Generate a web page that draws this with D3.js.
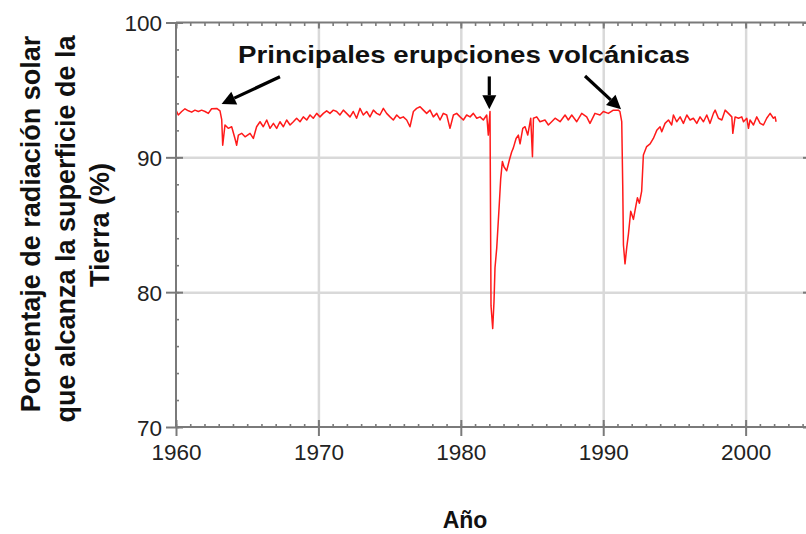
<!DOCTYPE html>
<html>
<head>
<meta charset="utf-8">
<script src="https://cdn.jsdelivr.net/npm/d3@7"></script>
<style>
  html, body { margin: 0; padding: 0; background: #fff; }
  svg { display: block; font-family: "Liberation Sans", Arial, sans-serif; }
</style>
</head>
<body>
<svg id="chart" width="806" height="534"></svg>
<script>
// ---- Data ----
const years = [
  1960.00,1960.16,1960.40,1960.63,1960.87,1961.10,1961.33,1961.57,1961.80,1962.04,1962.27,1962.50,1962.86,1963.09,1963.21,1963.28,1963.44,1963.67,1963.91,1964.14,1964.26,1964.38,1964.61,1964.85,1965.20,1965.43,1965.66,1965.90,1966.13,1966.37,1966.60,1966.84,1967.07,1967.30,1967.54,1967.77,1968.01,1968.24,1968.47,1968.71,1968.94,1969.18,1969.41,1969.64,1969.88,1970.11,1970.35,
  1970.58,1970.81,1971.05,1971.28,1971.51,1971.75,1971.98,1972.22,1972.45,1972.68,1972.92,1973.15,1973.39,1973.62,1973.86,1974.09,1974.32,1974.56,1974.79,1975.03,1975.26,1975.50,1975.73,1975.96,1976.20,1976.43,1976.67,1976.90,1977.14,1977.37,1977.60,1977.84,1978.07,1978.31,1978.54,1978.77,1979.01,1979.24,1979.48,1979.71,1979.95,1980.18,1980.41,1980.65,1980.88,1981.12,1981.35,1981.58,1981.82,1981.93,1982.05,
  1982.12,1982.24,1982.33,1982.40,1982.52,1982.70,1982.80,1982.92,1983.03,1983.22,1983.41,1983.57,1983.69,1983.88,1984.04,1984.16,1984.35,1984.51,1984.70,1984.91,1985.03,1985.10,1985.33,1985.56,1985.91,1986.15,1986.38,1986.62,1986.97,1987.32,1987.55,1987.79,1988.14,1988.49,1988.84,1989.07,1989.42,1989.77,1990.01,1990.36,1990.71,1991.06,1991.17,1991.30,
  1991.37,1991.42,1991.53,1991.65,1991.77,1991.93,1992.12,1992.31,1992.40,1992.54,1992.70,1992.82,1993.05,1993.29,1993.52,1993.76,1993.99,1994.11,1994.34,1994.58,1994.81,1994.93,1995.16,1995.40,1995.63,1995.87,1996.10,1996.33,1996.57,1996.80,1997.04,1997.27,1997.50,1997.74,1997.86,1998.09,1998.33,1998.56,1998.79,1999.03,1999.10,1999.26,1999.50,1999.73,1999.85,2000.08,2000.20,2000.31,2000.55,2000.78,2001.02,2001.25,2001.48,2001.72,2001.95,2002.07,2002.14
];
const transmission = [
  93.50,93.14,93.40,93.60,93.45,93.35,93.50,93.40,93.50,93.40,93.26,93.60,93.63,93.45,92.80,90.90,92.40,92.15,92.27,91.40,90.90,91.65,91.78,91.52,91.78,91.40,92.27,92.64,92.27,92.77,92.15,92.52,92.15,92.64,92.27,92.77,92.40,92.64,92.90,92.64,93.00,92.77,93.14,92.90,93.26,93.00,93.26,
  93.45,93.26,93.50,93.40,93.14,93.50,93.26,93.00,93.40,92.90,93.63,93.14,93.40,93.00,93.50,93.26,93.14,93.63,93.26,93.00,92.77,93.14,92.90,93.00,92.77,92.27,93.40,93.63,93.75,93.50,93.26,93.50,93.00,93.26,92.77,93.26,93.14,92.15,93.14,93.26,93.00,92.77,93.14,93.00,93.26,92.90,93.00,92.77,93.14,91.65,93.40,
  79.00,77.30,79.30,81.80,83.25,86.50,88.40,89.70,89.30,89.00,89.80,90.40,90.70,91.40,91.65,91.00,92.15,92.27,91.65,92.90,90.05,92.90,93.00,92.64,92.77,92.40,92.64,92.90,92.64,93.14,92.77,93.14,92.64,93.26,93.00,92.52,93.26,93.14,93.40,93.26,93.50,93.50,93.40,92.64,
  87.95,83.50,82.10,83.30,84.30,86.00,85.40,86.50,87.00,86.60,87.50,90.17,90.80,91.00,91.40,92.00,92.27,91.90,92.52,92.77,92.40,93.14,92.64,93.00,92.52,93.14,92.77,92.90,92.52,93.00,92.64,93.14,92.52,93.26,93.50,92.90,92.77,93.50,93.26,93.00,91.78,93.00,92.90,93.00,92.64,92.90,92.15,92.77,92.40,93.00,92.52,92.40,92.90,93.26,92.90,93.00,92.64
];
const xMajorTicks = [1960, 1970, 1980, 1990, 2000];
const yMajorTicks = [70, 80, 90, 100];
const yTitleLines = ["Porcentaje de radiación solar", "que alcanza la superficie de la", "Tierra (%)"];
const xTitle = "Año";
const annotationText = "Principales erupciones volcánicas";
// arrows: [tailYear, tailValue, tipYear, tipValue]
const arrows = [
  [1967.3, 95.98, 1963.2, 93.95],
  [1982.0, 96.00, 1982.0, 93.56],
  [1988.72, 96.03, 1991.25, 93.56]
];

// ---- Layout ----
const svg = d3.select("#chart");
const pLeft = 176, pRight = 810, pTop = 22.5, pBottom = 427;
const x = d3.scaleLinear().domain([1960, 2004.52]).range([pLeft, pRight]);
const y = d3.scaleLinear().domain([70, 100]).range([pBottom, pTop]);

const axisColor = "#7a7a7a";
const gridColor = "#d9d9d9";

// grid lines
const grid = svg.append("g");
grid.append("g").attr("transform", `translate(0,${pBottom})`)
  .call(d3.axisBottom(x).tickValues(xMajorTicks.slice(1)).tickSize(-(pBottom - pTop)).tickFormat(""))
  .call(g => g.select(".domain").remove())
  .call(g => g.selectAll("line").attr("stroke", gridColor).attr("stroke-width", 2.5));
grid.append("g").attr("transform", `translate(${pLeft},0)`)
  .call(d3.axisLeft(y).tickValues([80, 90]).tickSize(-(pRight - pLeft)).tickFormat(""))
  .call(g => g.select(".domain").remove())
  .call(g => g.selectAll("line").attr("stroke", gridColor).attr("stroke-width", 2.5));

// data line
const line = d3.line().x((d, i) => x(years[i])).y(d => y(d));
svg.append("path")
  .datum(transmission)
  .attr("fill", "none")
  .attr("stroke", "#ff1a1a")
  .attr("stroke-width", 1.5)
  .attr("stroke-linejoin", "round")
  .attr("d", line);

// frame
const frame = svg.append("g").attr("stroke", axisColor).attr("stroke-width", 2);
frame.append("line").attr("x1", pLeft).attr("x2", pLeft).attr("y1", pTop).attr("y2", pBottom);
frame.append("line").attr("x1", pLeft).attr("x2", pRight).attr("y1", pBottom).attr("y2", pBottom);
frame.append("line").attr("x1", pLeft).attr("x2", pRight).attr("y1", pTop).attr("y2", pTop);
frame.append("line").attr("x1", pRight).attr("x2", pRight).attr("y1", pTop).attr("y2", pBottom);

const styleTicks = (g, w) => {
  g.select(".domain").remove();
  g.selectAll("line").attr("stroke", axisColor).attr("stroke-width", w);
};
const minorYears = d3.range(1960, 2005);
const minorVals = d3.range(70, 101, 2);

// minor ticks (inward)
svg.append("g").attr("transform", `translate(0,${pBottom})`)
  .call(d3.axisBottom(x).tickValues(minorYears).tickSize(-3).tickFormat(""))
  .call(g => styleTicks(g, 1.6));
svg.append("g").attr("transform", `translate(0,${pTop})`)
  .call(d3.axisTop(x).tickValues(minorYears).tickSize(-3.5).tickFormat(""))
  .call(g => styleTicks(g, 1.6));
svg.append("g").attr("transform", `translate(${pLeft},0)`)
  .call(d3.axisLeft(y).tickValues(minorVals).tickSize(-3).tickFormat(""))
  .call(g => styleTicks(g, 1.6));
svg.append("g").attr("transform", `translate(${pRight},0)`)
  .call(d3.axisRight(y).tickValues(minorVals).tickSize(-3).tickFormat(""))
  .call(g => styleTicks(g, 1.6));

// major ticks (inward parts)
svg.append("g").attr("transform", `translate(0,${pBottom})`)
  .call(d3.axisBottom(x).tickValues(xMajorTicks).tickSize(-7).tickFormat(""))
  .call(g => styleTicks(g, 2));
svg.append("g").attr("transform", `translate(0,${pTop})`)
  .call(d3.axisTop(x).tickValues(xMajorTicks).tickSize(-6).tickFormat(""))
  .call(g => styleTicks(g, 2));
svg.append("g").attr("transform", `translate(${pLeft},0)`)
  .call(d3.axisLeft(y).tickValues(yMajorTicks).tickSize(-7).tickFormat(""))
  .call(g => styleTicks(g, 2));
svg.append("g").attr("transform", `translate(${pRight},0)`)
  .call(d3.axisRight(y).tickValues(yMajorTicks).tickSize(-7).tickFormat(""))
  .call(g => styleTicks(g, 2));

// major ticks outward + labels
svg.append("g").attr("transform", `translate(0,${pBottom})`)
  .call(d3.axisBottom(x).tickValues(xMajorTicks).tickSize(9).tickPadding(16).tickFormat(d3.format("d")))
  .call(g => styleTicks(g, 2))
  .call(g => g.selectAll("text").attr("font-size", 22.5).attr("fill", "#222")
    .attr("font-family", "'Liberation Sans', Arial, sans-serif").attr("dy", "0.71em").attr("y", 17));
svg.append("g").attr("transform", `translate(${pLeft},0)`)
  .call(d3.axisLeft(y).tickValues(yMajorTicks).tickSize(10).tickPadding(4).tickFormat(d3.format("d")))
  .call(g => styleTicks(g, 2))
  .call(g => g.selectAll("text").attr("font-size", 22.5).attr("fill", "#222")
    .attr("font-family", "'Liberation Sans', Arial, sans-serif").attr("dy", "0.36em"));

// annotation text
svg.append("text")
  .attr("x", 464).attr("y", 63)
  .attr("text-anchor", "middle")
  .attr("font-size", 23).attr("font-weight", "bold").attr("fill", "#111")
  .attr("textLength", 452).attr("lengthAdjust", "spacingAndGlyphs")
  .text(annotationText);

// arrows
const headLen = 14, headHalf = 7;
arrows.forEach(([tx, tv, hx, hv]) => {
  const x1 = x(tx), y1 = y(tv), x2 = x(hx), y2 = y(hv);
  const ang = Math.atan2(y2 - y1, x2 - x1);
  const bx = x2 - headLen * Math.cos(ang), by = y2 - headLen * Math.sin(ang);
  svg.append("line").attr("x1", x1).attr("y1", y1).attr("x2", bx).attr("y2", by)
    .attr("stroke", "#000").attr("stroke-width", 3.2);
  const px = -Math.sin(ang) * headHalf, py = Math.cos(ang) * headHalf;
  svg.append("path")
    .attr("d", `M${x2},${y2}L${bx + px},${by + py}L${bx - px},${by - py}Z`)
    .attr("fill", "#000");
});

// y-axis title (rotated, three lines)
const titleBaselines = [39.5, 74.5, 109];
const titleCenters = [224, 229, 225];
yTitleLines.forEach((t, i) => {
  svg.append("text")
    .attr("transform", `translate(${titleBaselines[i]},${titleCenters[i]}) rotate(-90)`)
    .attr("text-anchor", "middle")
    .attr("font-size", 27).attr("font-weight", "bold").attr("fill", "#111")
    .text(t);
});

// x-axis title
svg.append("text")
  .attr("x", 465).attr("y", 528)
  .attr("text-anchor", "middle")
  .attr("font-size", 23).attr("font-weight", "bold").attr("fill", "#111")
  .text(xTitle);
</script>
</body>
</html>
